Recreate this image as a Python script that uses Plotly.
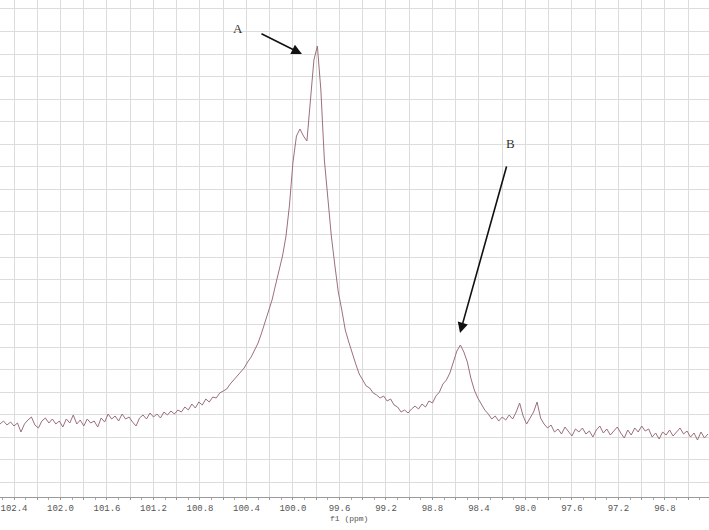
import numpy as np
import plotly.graph_objects as go

# 13C spectrum, f1 axis sampled from 102.52 ppm downward in 0.03 ppm steps
ppm_start = 102.52
ppm_step = 0.03

intensity = [
    73, 76, 72, 75, 71, 74, 65, 73, 77, 80,
    72, 69, 76, 79, 74, 78, 73, 76, 70, 78,
    74, 82, 73, 77, 71, 78, 74, 76, 70, 79,
    75, 83, 78, 81, 76, 83, 78, 80, 75, 71,
    79, 82, 78, 84, 80, 83, 79, 85, 82, 86,
    83, 87,
    85, 90, 87, 93, 89, 95, 92, 98, 95, 100,
    99, 104, 106, 108, 113, 117, 120, 125, 129, 135,
    140, 147, 154, 164, 175, 184, 197, 212, 227, 241,
    261, 292, 335, 361, 368, 361, 356,
    397, 437, 451, 407, 337, 297, 261, 232, 205, 187,
    167, 155, 143, 133, 123, 117, 111, 109, 104, 102,
    99, 101, 96, 98, 92, 90, 85, 87, 84, 88,
    91, 88, 93, 90, 96, 94, 101, 105, 113, 117,
    124, 135, 146, 152, 145, 135, 119, 107, 99, 93,
    87, 83, 78, 81, 76, 80, 77, 82, 78, 85,
    94, 81, 73, 79, 85, 95, 79, 73, 69, 72,
    65, 68,
    63, 70, 66, 61, 68, 65, 69, 63, 66, 60,
    67, 71, 64, 68, 62, 66, 70, 64, 59, 67,
    62, 69, 65, 71, 66, 68, 60, 64, 58, 65,
    62, 67, 61, 65, 69, 63, 66, 60, 64, 57,
    65, 59, 63,
]

tick_labels = ["102.4", "102.0", "101.6", "101.2", "100.8", "100.4", "100.0",
               "99.6", "99.2", "98.8", "98.4", "98.0", "97.6", "97.2", "96.8", "96.4"]

# peak markers: label position, arrow tail, arrow head (ppm, intensity)
peak_names = ["A", "B"]
label_pos = [(100.47, 469), (98.125, 354)]
arrow_tail = [(100.284, 464), (98.159, 332)]
arrow_head = [(99.923, 443), (98.563, 164)]

ppm = ppm_start - ppm_step * np.arange(len(intensity))

# grid every 0.2 ppm, labels every 0.4 ppm
grid_vals = []
grid_text = []
for lab in tick_labels:
    v = float(lab)
    grid_vals += [v, round(v - 0.2, 1)]
    grid_text += [lab, ""]

fig = go.Figure(go.Scatter(
    x=ppm, y=intensity, mode='lines',
    line=dict(color='#9c7078', width=1),
    hoverinfo='skip',
))

fig.update_layout(
    width=709, height=530,
    margin=dict(l=0, r=0, t=0, b=33, autoexpand=False),
    paper_bgcolor='white', plot_bgcolor='white',
    showlegend=False,
)

fig.update_xaxes(
    range=[102.5204, 96.421], automargin=False,
    tickmode='array', tickvals=grid_vals, ticktext=grid_text,
    showgrid=True, gridcolor='#dcdcdc', gridwidth=1,
    showline=True, linecolor='#9a9a9a', linewidth=1,
    ticks='outside', ticklen=2, tickcolor='#9a9a9a',
    minor=dict(dtick=0.1, ticks='outside', ticklen=2, tickcolor='#aaaaaa', showgrid=False),
    tickfont=dict(family='Liberation Mono', size=9, color='#555555'),
    zeroline=False,
)
fig.update_yaxes(
    range=[0, 497], automargin=False,
    tick0=14.5, dtick=22.55,
    showgrid=True, gridcolor='#dcdcdc', gridwidth=1,
    showticklabels=False, showline=False, zeroline=False, ticks='',
)

fig.add_annotation(
    text='f1 (ppm)', xref='paper', yref='paper', x=0.492, y=-0.056,
    showarrow=False, font=dict(family='Liberation Mono', size=8, color='#555555'),
)

for name, lp, tail, head in zip(peak_names, label_pos, arrow_tail, arrow_head):
    fig.add_annotation(
        text=name, x=lp[0], y=lp[1], showarrow=False,
        font=dict(family='Liberation Serif', size=13, color='#333333'),
    )
    fig.add_annotation(
        text='', x=head[0], y=head[1], ax=tail[0], ay=tail[1],
        axref='x', ayref='y', showarrow=True,
        arrowhead=2, arrowsize=1.3, arrowwidth=1.6, arrowcolor='#111111',
    )

# drop the browser's default page margin so the figure sits at the window corner
fig.write_html("out.html", config={'displayModeBar': False},
               post_script="document.body.style.margin='0';")
